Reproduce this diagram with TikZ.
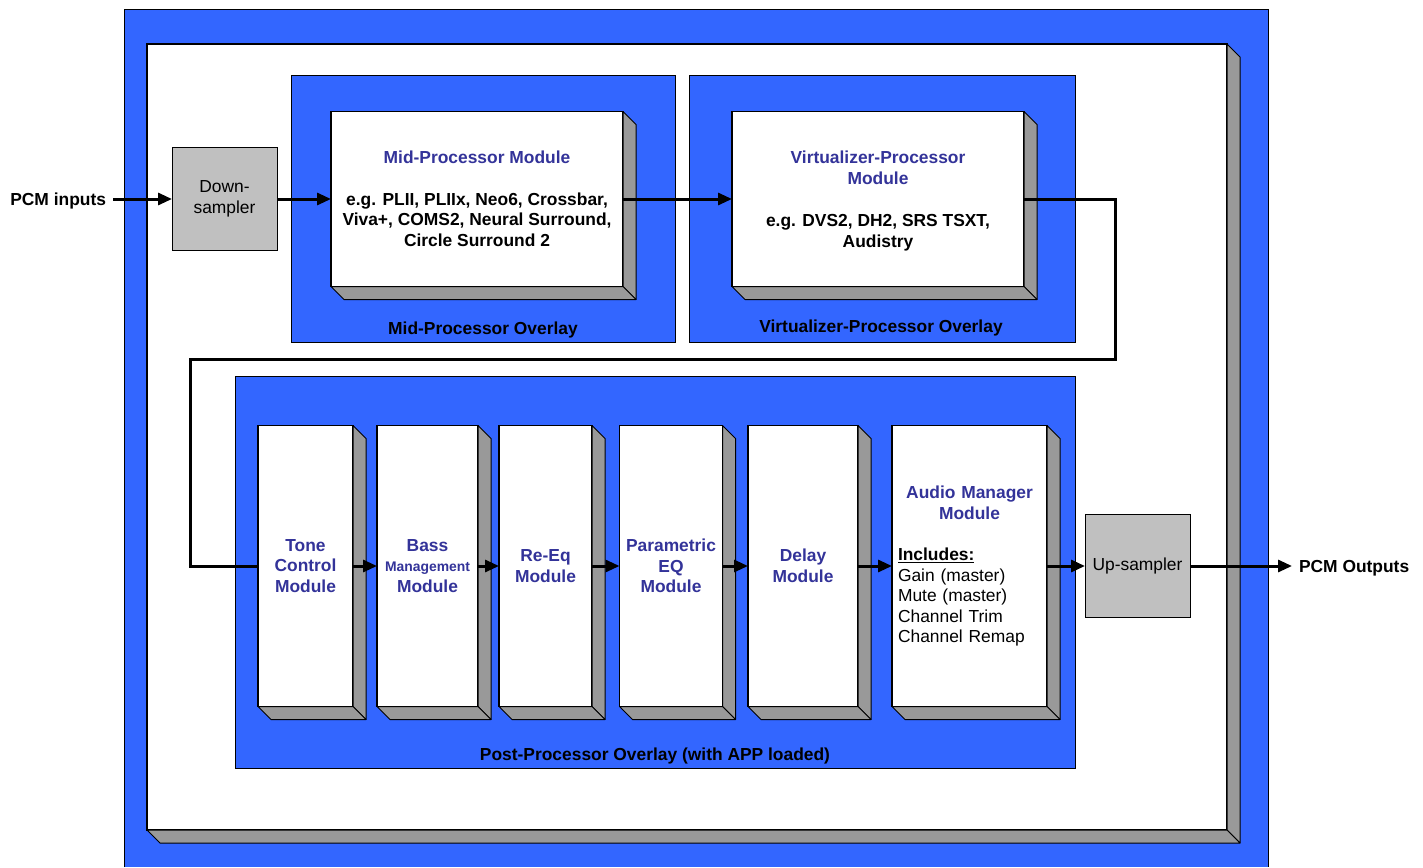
\documentclass[tikz,border=0pt]{standalone}
\usepackage{fontspec}
\setmainfont{Liberation Sans}
\usetikzlibrary{arrows.meta,calc}
\definecolor{ovlblue}{RGB}{51,102,255}
\definecolor{titleblue}{RGB}{51,51,153}
\definecolor{bevelgray}{RGB}{153,153,153}
\definecolor{boxgray}{RGB}{192,192,192}
\newcommand{\ttl}[1]{\textcolor{titleblue}{#1}}

\begin{document}
\begin{tikzpicture}[x=1pt,y=-1pt,
  every node/.style={font=\fontsize{17.4}{20.5}\selectfont,outer sep=0pt},
  panel/.style={draw=black,fill=white,line width=1.2pt,inner sep=0pt},
  ovlbox/.style={draw=black,fill=ovlblue,line width=1pt,inner sep=0pt},
  modbox/.style={panel,align=center,font=\fontsize{17.4}{20.5}\selectfont\bfseries},
  tallmod/.style={modbox,text=titleblue,minimum height=281pt},
  sampler/.style={draw=black,fill=boxgray,line width=1pt,align=center,
    minimum width=105pt,minimum height=103pt,inner sep=0pt},
  bevel/.style={draw=black,fill=bevelgray,line width=1pt,line join=round},
  flow/.style={line width=3pt,-{Triangle[length=14pt,width=12pt]}},
  wire/.style={line width=3pt},
  ovltext/.style={anchor=base,font=\fontsize{17.4}{20.5}\selectfont\bfseries},
  ioname/.style={inner sep=7pt,text depth=0pt,font=\fontsize{17.4}{20.5}\selectfont\bfseries}
]
  \useasboundingbox (0,0) rectangle (1423,867);

  % outer blue area and main frame
  \fill[ovlblue] (124,10) rectangle (1268,867);
  \draw[line width=1pt] (124,867) -- (124,10) -- (1268,10) -- (1268,867);
  \node[panel,minimum width=1080pt,minimum height=786pt] (frame) at (687,437) {};

  % overlays
  \node[ovlbox,minimum width=384pt,minimum height=267pt] (midovl) at (483,208.5) {};
  \node[ovlbox,minimum width=386pt,minimum height=267pt] (virtovl) at (882,208.5) {};
  \node[ovlbox,minimum width=840pt,minimum height=392pt] (postovl) at (655,572) {};
  \node[ovltext] (midovl-t) at (483,334) {Mid-Processor Overlay};
  \node[ovltext] (virtovl-t) at (881,332) {Virtualizer-Processor Overlay};
  \node[ovltext] (postovl-t) at (655,760) {Post-Processor Overlay (with APP loaded)};

  % samplers
  \node[sampler] (down) at (224.5,199) {Down-\\sampler};
  \node[sampler] (up) at (1137.5,566) {Up-sampler};

  % modules
  \node[modbox,minimum width=292pt,minimum height=175pt] (mid) at (477,199)
    {\ttl{Mid-Processor Module}\\[21pt]e.g. PLII, PLIIx, Neo6, Crossbar,\\
     Viva+, COMS2, Neural Surround,\\Circle Surround 2};
  \node[modbox,minimum width=292pt,minimum height=175pt] (virt) at (878,199)
    {\rule{0pt}{16pt}\ttl{Virtualizer-Processor}\\[0.5pt]\ttl{Module}\\[21.5pt]e.g. DVS2, DH2, SRS TSXT,\\[0.5pt]Audistry};
  \node[tallmod,minimum width=95pt] (tone) at (305.5,566) {Tone\\Control\\Module};
  \node[tallmod,minimum width=101pt] (bass) at (427.5,566)
    {Bass\\{\fontsize{13.9}{17}\selectfont Management}\\Module};
  \node[tallmod,minimum width=93pt] (reeq) at (545.5,566) {Re-Eq\\Module};
  \node[tallmod,minimum width=103pt] (peq) at (671,566) {Parametric\\EQ\\Module};
  \node[tallmod,minimum width=110pt] (delay) at (803,566) {Delay\\Module};
  \node[modbox,minimum width=155pt,minimum height=281pt,text width=143pt,align=left] (amgr) at (969.5,566)
    {{\centering\color{titleblue}Audio Manager\\Module\par}\vspace{21pt}%
     \underline{Includes:}\\{\mdseries Gain (master)\\Mute (master)\\Channel Trim\\Channel Remap}};

  % 3D sides
  \foreach \n in {frame,mid,virt,tone,bass,reeq,peq,delay,amgr} {
    \draw[bevel] (\n.north east) -- ++(13,13) -- ($(\n.south east)+(13,13)$) -- (\n.south east) -- cycle;
    \draw[bevel] (\n.south west) -- ++(13,13) -- ($(\n.south east)+(13,13)$) -- (\n.south east) -- cycle;
  }

  % signal path
  \node[ioname,anchor=east] (pcmin) at (113,199) {PCM inputs};
  \node[ioname,anchor=west] (pcmout) at (1292,566) {PCM Outputs};
  \coordinate (turnA) at (1115,359);
  \coordinate (turnB) at (190,359);
  \draw[flow] (pcmin.east) -- (down.west);
  \draw[flow] (down.east) -- (mid.west);
  \draw[flow] (mid.east) -- (virt.west);
  \draw[wire] (virt.east) -| (turnA) -- (turnB) |- (tone.west);
  \foreach \a/\b in {tone/bass,bass/reeq,reeq/peq,peq/delay,delay/amgr,amgr/up}
    \draw[flow] (\a.east) -- (\b.west);
  \draw[flow] (up.east) -- (pcmout.west);
\end{tikzpicture}
\end{document}
